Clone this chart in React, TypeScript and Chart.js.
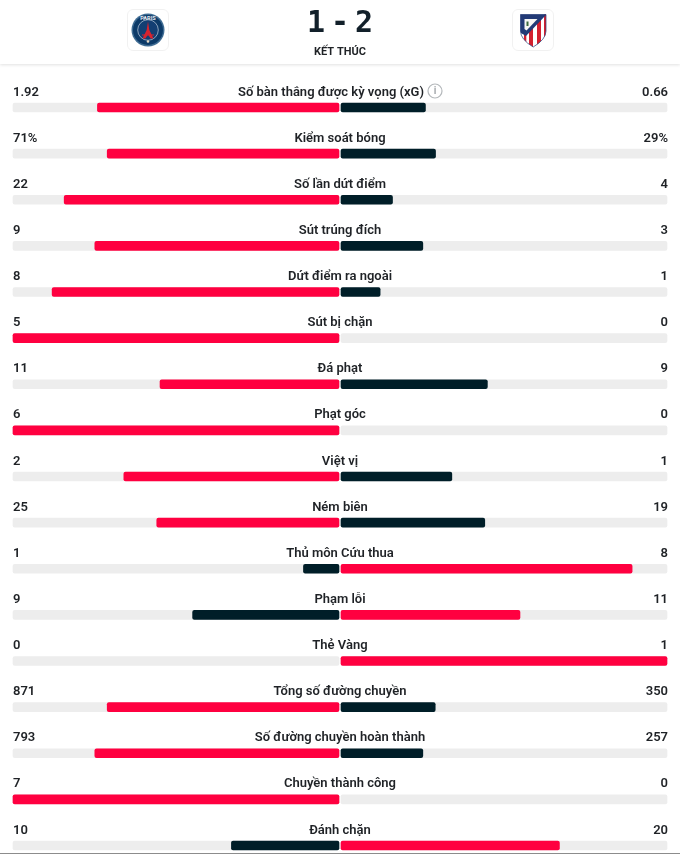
import React, { useEffect, useRef } from "react";
import { Chart, registerables } from "chart.js";

Chart.register(...registerables);

const categories = ["Số bàn thắng được kỳ vọng (xG)", "Kiểm soát bóng", "Số lần dứt điểm", "Sút trúng đích", "Dứt điểm ra ngoài", "Sút bị chặn", "Đá phạt", "Phạt góc", "Việt vị", "Ném biên", "Thủ môn Cứu thua", "Phạm lỗi", "Thẻ Vàng", "Tổng số đường chuyền", "Số đường chuyền hoàn thành", "Chuyền thành công", "Đánh chặn"];
const homeLabels = ["1.92", "71%", "22", "9", "8", "5", "11", "6", "2", "25", "1", "9", "0", "871", "793", "7", "10"];
const awayLabels = ["0.66", "29%", "4", "3", "1", "0", "9", "0", "1", "19", "8", "11", "1", "350", "257", "0", "20"];
// bar lengths, in percent of one half-track
const homeShare = [74.1, 71.1, 84.3, 74.9, 88.0, 100, 54.9, 100, 66.0, 55.9, 10.9, 44.9, 0, 71.1, 74.9, 100, 33.0];
const awayShare = [25.9, 29.0, 15.8, 25.1, 12.0, 0, 44.9, 0, 34.0, 44.1, 89.3, 54.9, 100, 28.9, 25.1, 0, 67.0];

const RED = "#ff0040";
const DARK = "#001e28";
const TRACK = "#ededed";
const TEXT = "#1f2226";
const FONT = "Roboto";
const GAP = 100 / 326;

const barBase = { grouped: false, barThickness: 9, borderRadius: 2, borderSkipped: false, clip: false as any };

const textPlugin = {
  id: "statText",
  afterDatasetsDraw(chart: any) {
    const { ctx, scales } = chart;
    const x = scales.x;
    const y = scales.y;
    const mid = x.getPixelForValue(0);
    ctx.save();
    ctx.fillStyle = TEXT;
    ctx.textBaseline = "alphabetic";
    ctx.font = `600 13px ${FONT}`;
    categories.forEach((c, i) => {
      const py = y.getPixelForValue(i) - 12;
      ctx.textAlign = "left";
      ctx.fillText(homeLabels[i], x.left, py);
      ctx.textAlign = "right";
      ctx.fillText(awayLabels[i], x.right + 1, py);
      ctx.textAlign = "center";
      ctx.fillText(c, i === 0 ? mid - 9 : mid, py);
    });
    // info icon next to the first row's title
    const iy = y.getPixelForValue(0) - 16.5;
    ctx.strokeStyle = "#b4b8bb";
    ctx.lineWidth = 1.2;
    ctx.beginPath();
    ctx.arc(435, iy, 7, 0, Math.PI * 2);
    ctx.stroke();
    ctx.fillStyle = "#a6aaad";
    ctx.font = `700 10px ${FONT}`;
    ctx.textAlign = "center";
    ctx.textBaseline = "middle";
    ctx.fillText("i", 435, iy + 0.5);

    // match header
    ctx.fillStyle = "#12202a";
    ctx.textBaseline = "alphabetic";
    ctx.font = `700 30px "DejaVu Sans Mono"`;
    ctx.fillText("1", 316, 32);
    ctx.fillText("-", 340, 32);
    ctx.fillText("2", 364, 32);
    ctx.font = `700 11px ${FONT}`;
    ctx.fillStyle = TEXT;
    ctx.fillText("KẾT THÚC", 340, 55);
    ctx.restore();
  },
};

const cardStyle = (left: number): React.CSSProperties => ({
  position: "absolute",
  left,
  top: 9,
  width: 42,
  height: 42,
  boxSizing: "border-box",
  border: "1px solid #f1f1f1",
  borderRadius: 6,
  background: "#fff",
});

function PsgCrest() {
  return (
    <svg width="40" height="40" viewBox="0 0 40 40" style={{ display: "block" }}>
      <circle cx="20" cy="20" r="16.5" fill="#3f6c93" />
      <circle cx="20" cy="20" r="15" fill="#0c3a68" />
      <circle cx="20" cy="20" r="10.3" fill="#133f73" stroke="#dfe6ee" strokeWidth="0.6" />
      <text x="20" y="10.3" textAnchor="middle" fontFamily="Roboto" fontWeight="700" fontSize="5.6" fill="#e8edf3">PARIS</text>
      <path d="M20 11.5 L21.3 20 L25.5 28.5 L22.6 28.5 L20 24.6 L17.4 28.5 L14.5 28.5 L18.7 20 Z" fill="#d8232f" />
      <path d="M14 24.5 H26 V25.5 H14 Z" fill="#d8232f" />
      <circle cx="20" cy="31.5" r="1.3" fill="#e6d9c3" />
    </svg>
  );
}

function AtleticoCrest() {
  const shield = "M7.5 4.5 H33 V21 Q33 29.5 20.2 37 Q7.5 29.5 7.5 21 Z";
  return (
    <svg width="40" height="40" viewBox="0 0 40 40" style={{ display: "block" }}>
      <defs>
        <clipPath id="shield"><path d={shield} /></clipPath>
      </defs>
      <path d={shield} fill="#fff" />
      <g clipPath="url(#shield)">
        <path d="M16 12 V40 H20 V12 Z M24 8 V40 H28 V8 Z M11 17 V40 H13.3 V17 Z M31 4 V40 H34 V4 Z" fill="#d4202f" />
        <path d="M6 4 H33 L33 5 L13 26 L6 22 Z" fill="#223a76" />
        <path d="M11.5 9 H24.5 L13.5 20.5 L11.5 19 Z" fill="#f6f6f4" />
        <path d="M13.5 11.5 L15.5 11.5 L15.5 16 L13.5 16 Z" fill="#3b6a3e" />
      </g>
      <path d={shield} fill="none" stroke="#223a76" strokeWidth="0.7" />
    </svg>
  );
}

export default function App() {
  const ref = useRef<HTMLCanvasElement>(null);
  useEffect(() => {
    const chart = new Chart(ref.current!, {
      type: "bar",
      data: {
        labels: categories,
        datasets: [
          { ...barBase, data: categories.map(() => [-100 - GAP, -GAP]), backgroundColor: TRACK, order: 2 },
          { ...barBase, data: categories.map(() => [GAP, 100 + GAP]), backgroundColor: TRACK, order: 2 },
          { ...barBase, data: homeShare.map((h) => [-GAP - h, -GAP]), backgroundColor: homeShare.map((h, i) => (h === 0 ? "transparent" : h > awayShare[i] ? RED : DARK)), order: 1 },
          { ...barBase, data: awayShare.map((a) => [GAP, GAP + a]), backgroundColor: awayShare.map((a, i) => (a === 0 ? "transparent" : a > homeShare[i] ? RED : DARK)), order: 1 },
        ] as any,
      },
      options: {
        indexAxis: "y",
        animation: false,
        responsive: false,
        layout: { padding: { left: 13, right: 13, top: 107.5, bottom: 8.5 } },
        plugins: { legend: { display: false }, tooltip: { enabled: false } },
        scales: {
          x: { min: -100 - GAP, max: 100 + GAP, display: false },
          y: { type: "category", offset: false, display: false, grid: { display: false } },
        },
      },
      plugins: [textPlugin],
    } as any);
    return () => chart.destroy();
  }, []);
  return (
    <div style={{ position: "absolute", left: 0, top: 0, width: 680, height: 854, background: "#fff", overflow: "hidden" }}>
      <div style={{ position: "absolute", left: 0, top: 0, width: 680, height: 64, boxShadow: "0 1px 3px rgba(0,0,0,0.12)" }} />
      <canvas ref={ref} width={680} height={854} style={{ position: "absolute", left: 0, top: 0 }} />
      <div style={cardStyle(127)}><PsgCrest /></div>
      <div style={cardStyle(512)}><AtleticoCrest /></div>
      <div style={{ position: "absolute", left: 0, top: 852.5, width: 680, height: 1.5, background: "#8c8c8c" }} />
    </div>
  );
}
